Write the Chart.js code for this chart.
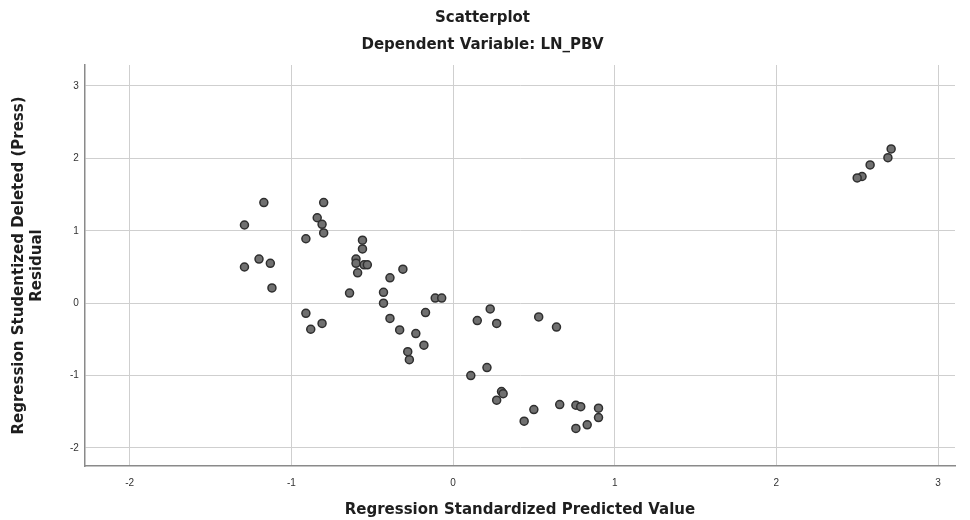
<!DOCTYPE html>
<html>
<head>
<meta charset="utf-8">
<script src="https://cdn.jsdelivr.net/npm/chart.js@4/dist/chart.umd.min.js"></script>
<style>
  html, body { margin: 0; padding: 0; background: #fff; }
  #wrap { width: 970px; height: 520px; }
</style>
</head>
<body>
<div id="wrap"><canvas id="chart-scatter"></canvas></div>
<script>
// Scatterplot of studentized deleted residuals vs standardized predicted values

const predicted = [
  -1.29, -1.17, -1.29, -1.20, -1.13, -1.12, -0.91, -0.84, -0.81, -0.80,
  -0.80, -0.91, -0.88, -0.81, -0.64, -0.60, -0.60, -0.59, -0.56, -0.56,
  -0.55, -0.53, -0.43, -0.43, -0.39, -0.39, -0.31, -0.33, -0.23, -0.18,
  -0.28, -0.27, -0.17, -0.11, -0.07, 0.11, 0.21, 0.15, 0.23, 0.27,
  0.30, 0.31, 0.27, 0.53, 0.64, 0.50, 0.44, 0.66, 0.76, 0.79,
  0.90, 0.90, 0.83, 0.76, 2.71, 2.69, 2.58, 2.53, 2.50
];
const residuals = [
  1.08, 1.39, 0.50, 0.61, 0.55, 0.21, 0.89, 1.18, 1.09, 1.39,
  0.97, -0.14, -0.36, -0.28, 0.14, 0.61, 0.55, 0.42, 0.75, 0.87,
  0.53, 0.53, 0.15, 0.00, 0.35, -0.21, 0.47, -0.37, -0.42, -0.58,
  -0.67, -0.78, -0.13, 0.07, 0.07, -1.00, -0.89, -0.24, -0.08, -0.28,
  -1.22, -1.25, -1.34, -0.19, -0.33, -1.47, -1.63, -1.40, -1.41, -1.43,
  -1.45, -1.58, -1.68, -1.73, 2.13, 2.01, 1.91, 1.75, 1.73
];
const xTicks = [-2, -1, 0, 1, 2, 3];
const yTicks = [-2, -1, 0, 1, 2, 3];

const points = predicted.map((x, i) => ({ x: x, y: residuals[i] }));

const titleFont = "'DejaVu Sans', 'Liberation Sans', sans-serif";
const tickFont = "'Liberation Sans', Arial, sans-serif";
const gridColor = '#cfcfcf';
const axisColor = '#8a8a8a';
const textColor = '#1e1e1e';

new Chart(document.getElementById('chart-scatter'), {
  type: 'scatter',
  data: {
    datasets: [{
      data: points,
      backgroundColor: '#707070',
      borderColor: '#2f2f2f',
      borderWidth: 1.5,
      pointRadius: 4,
      pointHoverRadius: 4
    }]
  },
  options: {
    responsive: true,
    maintainAspectRatio: false,
    animation: false,
    layout: { padding: { left: 10, right: 15, top: 0, bottom: 0 } },
    plugins: {
      legend: { display: false },
      tooltip: { enabled: false },
      title: {
        display: true,
        text: 'Scatterplot',
        color: textColor,
        font: { family: titleFont, size: 15, weight: 'bold', lineHeight: 1.2 },
        padding: { top: 9, bottom: 9 }
      },
      subtitle: {
        display: true,
        text: 'Dependent Variable: LN_PBV',
        color: textColor,
        font: { family: titleFont, size: 15, weight: 'bold', lineHeight: 1.2 },
        padding: { top: 0, bottom: 11 }
      }
    },
    scales: {
      x: {
        type: 'linear',
        min: -2.277,
        max: 3.105,
        afterBuildTicks: axis => { axis.ticks = xTicks.map(v => ({ value: v })); },
        grid: { color: gridColor, drawTicks: false },
        border: { color: axisColor, width: 1.5 },
        ticks: { color: '#333', font: { family: tickFont, size: 10, lineHeight: 1.2 }, padding: 11 },
        title: {
          display: true,
          text: 'Regression Standardized Predicted Value',
          color: textColor,
          font: { family: titleFont, size: 15, weight: 'bold', lineHeight: 1.2 },
          padding: { top: 1, bottom: 1 }
        }
      },
      y: {
        type: 'linear',
        min: -2.249,
        max: 3.29,
        afterBuildTicks: axis => { axis.ticks = yTicks.map(v => ({ value: v })); },
        grid: { color: gridColor, drawTicks: false },
        border: { color: axisColor, width: 1.5 },
        ticks: { color: '#333', font: { family: tickFont, size: 10 }, padding: 6 },
        title: {
          display: true,
          text: ['Regression Studentized Deleted (Press)', 'Residual'],
          color: textColor,
          font: { family: titleFont, size: 15, weight: 'bold', lineHeight: 1.2 },
          padding: { top: 0, bottom: 18 }
        }
      }
    }
  }
});
</script>
</body>
</html>
